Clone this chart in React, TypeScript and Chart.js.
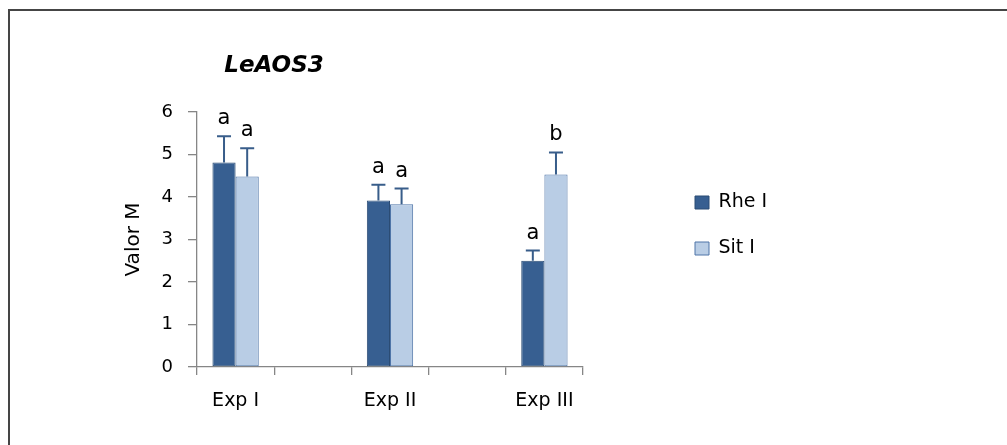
import { useEffect, useRef } from 'react';
import { Chart, registerables } from 'chart.js';

Chart.register(...registerables);

// ---- data ----
const categories = ['Exp I', '', 'Exp II', '', 'Exp III'];
const seriesNames = ['Rhe I', 'Sit I'];
const rheValues = [4.81, null, 3.92, null, 2.5];
const rheErrors = [0.62, null, 0.37, null, 0.24];
const rheLetters = ['a', '', 'a', '', 'a'];
const sitValues = [4.48, null, 3.83, null, 4.53];
const sitErrors = [0.67, null, 0.37, null, 0.52];
const sitLetters = ['a', '', 'a', '', 'b'];
const chartTitle = 'LeAOS3';
const yAxisTitle = 'Valor M';
const yMin = 0;
const yMax = 6;
const yStep = 1;

const errorSets = [rheErrors, sitErrors];
const letterSets = [rheLetters, sitLetters];

// ---- look ----
const FONT = "'DejaVu Sans', sans-serif";
const W = 1007;
const H = 445;
const AXIS_GREY = '#868686';
const LEGEND_FONT_SIZE = 19;
const LEGEND_BOX_W = 14;
const LEGEND_BOX_H = 13;
const LEGEND_PAD = 27;
const LEGEND_BOX_X = 695;

function legendRightPadding(): number {
  const c = document.createElement('canvas').getContext('2d');
  if (!c) return 230;
  c.font = `${LEGEND_FONT_SIZE}px ${FONT}`;
  const tw = Math.max(...seriesNames.map((n) => c.measureText(n).width));
  const itemWidth = LEGEND_BOX_W + LEGEND_FONT_SIZE / 2 + tw;
  return W - LEGEND_BOX_X - 10 - itemWidth;
}

// Upper error bars with caps, plus the significance letters above them
const errorBarPlugin = {
  id: 'errorBarsAndLetters',
  afterDatasetsDraw(chart: any) {
    const { ctx } = chart;
    const yScale = chart.scales.y;
    chart.data.datasets.forEach((ds: any, di: number) => {
      const meta = chart.getDatasetMeta(di);
      const errs = errorSets[di];
      const letters = letterSets[di];
      meta.data.forEach((bar: any, i: number) => {
        const v = ds.data[i];
        if (v == null) return;
        const e = errs[i] ?? 0;
        const yBase = yScale.getPixelForValue(v);
        const yTop = yScale.getPixelForValue(v + e);
        ctx.save();
        ctx.strokeStyle = '#385d8a';
        ctx.lineWidth = 2;
        ctx.beginPath();
        ctx.moveTo(bar.x, yBase);
        ctx.lineTo(bar.x, yTop);
        ctx.moveTo(bar.x - 7, yTop);
        ctx.lineTo(bar.x + 7, yTop);
        ctx.stroke();
        const letter = letters[i];
        if (letter) {
          ctx.fillStyle = '#000';
          ctx.font = `21px ${FONT}`;
          ctx.textAlign = 'center';
          ctx.textBaseline = 'alphabetic';
          ctx.fillText(letter, bar.x, yTop - 12);
        }
        ctx.restore();
      });
    });
  },
};

// Bold italic heading placed over the left part of the plot
const headingPlugin = {
  id: 'heading',
  afterDraw(chart: any) {
    const { ctx, chartArea } = chart;
    ctx.save();
    ctx.fillStyle = '#000';
    ctx.font = `italic bold 23px ${FONT}`;
    ctx.textAlign = 'center';
    ctx.textBaseline = 'alphabetic';
    ctx.fillText(chartTitle, chartArea.left + 77, chartArea.top - 40);
    ctx.restore();
  },
};

export default function App() {
  const canvasRef = useRef<HTMLCanvasElement | null>(null);

  useEffect(() => {
    const canvas = canvasRef.current;
    if (!canvas) return;
    const chart = new Chart(canvas, {
      type: 'bar',
      data: {
        labels: categories,
        datasets: [
          {
            label: seriesNames[0],
            data: rheValues,
            backgroundColor: '#375f91',
            borderColor: '#2b4c74',
            borderWidth: 1,
            borderSkipped: false,
            categoryPercentage: 0.6,
            barPercentage: 1,
            xAxisID: 'x',
            yAxisID: 'y',
          },
          {
            label: seriesNames[1],
            data: sitValues,
            backgroundColor: '#b9cde5',
            borderColor: '#4f75a8',
            borderWidth: 1,
            borderSkipped: false,
            categoryPercentage: 0.6,
            barPercentage: 1,
            xAxisID: 'x',
            yAxisID: 'y',
          },
        ],
      },
      options: {
        animation: false,
        responsive: true,
        maintainAspectRatio: false,
        devicePixelRatio: 1,
        layout: {
          padding: { top: 6, bottom: 0, left: 120, right: legendRightPadding() },
        },
        plugins: {
          title: { display: false },
          tooltip: { enabled: false },
          legend: {
            display: true,
            position: 'right',
            align: 'center',
            labels: {
              boxWidth: LEGEND_BOX_W,
              boxHeight: LEGEND_BOX_H,
              padding: LEGEND_PAD,
              color: '#000',
              font: { family: FONT, size: LEGEND_FONT_SIZE },
            },
          },
        },
        scales: {
          x: {
            type: 'category',
            position: 'bottom',
            offset: true,
            grid: {
              offset: true,
              drawOnChartArea: false,
              drawTicks: true,
              tickLength: 8,
              color: AXIS_GREY,
              lineWidth: 1.3,
            },
            border: { display: true, color: AXIS_GREY, width: 1.3 },
            ticks: {
              color: '#000',
              padding: 15,
              maxRotation: 0,
              autoSkip: false,
              font: { family: FONT, size: 19 },
            },
            afterFit: (s: any) => {
              s.height = 78;
            },
          },
          xTop: {
            type: 'category',
            position: 'top',
            display: true,
            grid: { display: false, drawTicks: false },
            border: { display: false },
            ticks: { display: false },
            afterFit: (s: any) => {
              s.height = 106;
            },
          },
          y: {
            type: 'linear',
            position: 'left',
            min: yMin,
            max: yMax,
            ticks: {
              stepSize: yStep,
              color: '#000',
              padding: 15,
              font: { family: FONT, size: 18 },
            },
            grid: {
              drawOnChartArea: false,
              drawTicks: true,
              tickLength: 9,
              color: AXIS_GREY,
              lineWidth: 1.3,
            },
            border: { display: true, color: AXIS_GREY, width: 1.3 },
            title: {
              display: true,
              text: yAxisTitle,
              color: '#000',
              padding: { top: 2, bottom: 0 },
              font: { family: FONT, size: 20 },
            },
            afterFit: (s: any) => {
              s.width = 77;
            },
          },
          yRight: {
            type: 'linear',
            position: 'right',
            display: true,
            grid: { display: false, drawTicks: false },
            border: { display: false },
            ticks: { display: false },
            title: { display: false },
            afterFit: (s: any) => {
              s.width = 85;
            },
          },
        },
      },
      plugins: [errorBarPlugin, headingPlugin],
    } as any);
    return () => chart.destroy();
  }, []);

  return (
    <>
      <div
        style={{
          position: 'fixed',
          left: 0,
          top: 0,
          width: W,
          height: H,
          background: '#fff',
        }}
      >
        <canvas ref={canvasRef} />
      </div>
      <div
        style={{
          position: 'fixed',
          left: 8,
          top: 9,
          right: 0,
          bottom: 0,
          borderTop: '2px solid #454545',
          borderLeft: '2px solid #454545',
          pointerEvents: 'none',
        }}
      />
    </>
  );
}
